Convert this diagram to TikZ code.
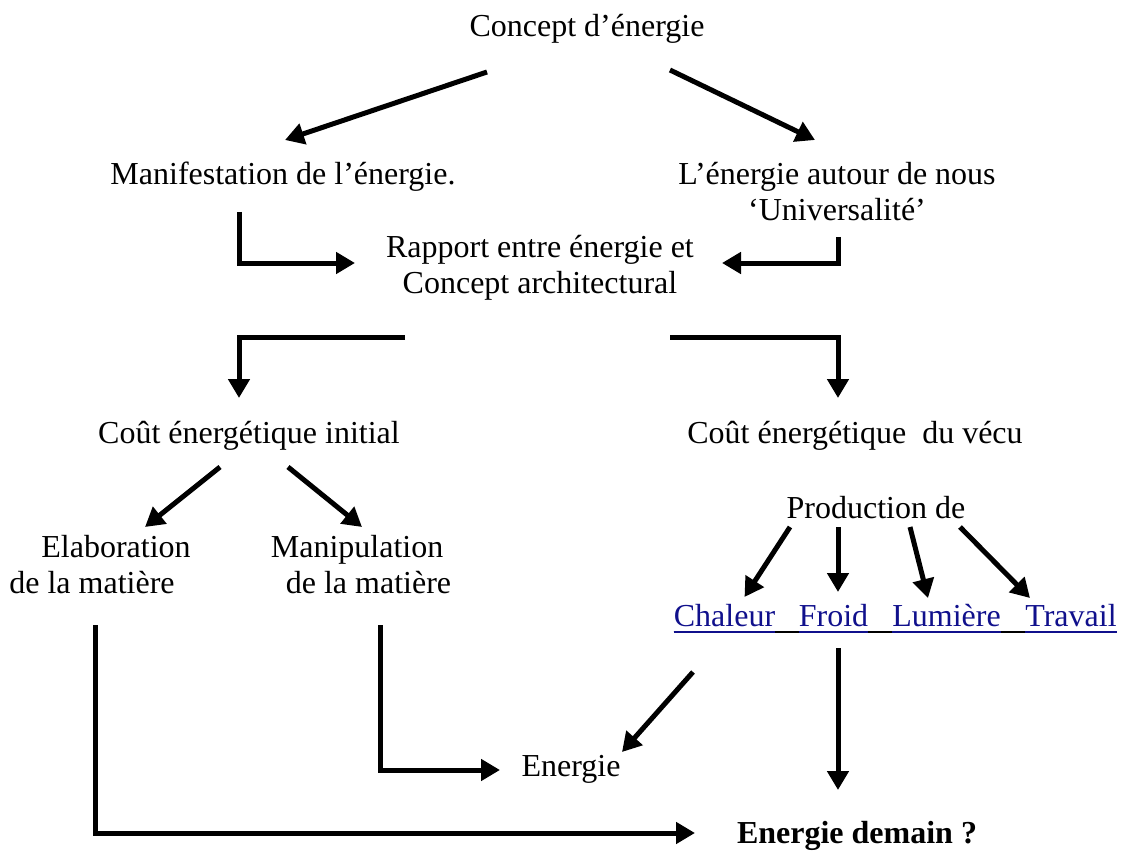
\documentclass[tikz,border=0pt]{standalone}
\usepackage{fontspec}
\setmainfont{Liberation Serif}
\usetikzlibrary{arrows.meta,calc}
\definecolor{linkblue}{RGB}{16,16,140}
\begin{document}
\begin{tikzpicture}[x=1pt,y=-1pt,
  lbl/.style={inner sep=0pt,anchor=base,font=\fontsize{32}{36}\selectfont,align=center},
  arr/.style={line width=5pt,-{Triangle[length=19pt,width=21pt]}},
  uline/.style={line width=2pt}]
\useasboundingbox (0,0) rectangle (1127,853);
% nodes (anchor base = baseline of the last line)
\node[lbl] (concept) at (587,37) {Concept d’énergie};
\node[lbl] (manif) at (283,185) {Manifestation de l’énergie.};
\node[lbl] (autour) at (837,221) {L’énergie autour de nous\\‘Universalité’};
\node[lbl] (rapport) at (540,293) {Rapport entre énergie et\\Concept architectural};
\node[lbl] (initial) at (249,443) {Coût énergétique initial};
\node[lbl] (vecu) at (855,443) {Coût énergétique\ \ du vécu};
\node[lbl,align=left] (elab) at (100,593) {\hspace*{32pt}Elaboration\\de la matière};
\node[lbl,align=left] (manip) at (361,593) {Manipulation\\\hspace*{15pt}de la matière};
\node[lbl] (prod) at (876,518) {Production de};
\node[lbl,text=linkblue] (chaleur) at (724.5,626) {Chaleur};
\node[lbl,text=linkblue] (froid) at (833.5,626) {Froid};
\node[lbl,text=linkblue] (lumiere) at (946.5,626) {Lumière};
\node[lbl,text=linkblue] (travail) at (1071,626) {Travail};
\node[lbl] (energie) at (571,776) {Energie};
\node[lbl,font=\fontsize{32}{36}\selectfont\bfseries] (demain) at (857,843) {Energie demain ?};
% underlines
\draw[uline] ($(chaleur.base west)+(0,6)$) -- ($(travail.base east)+(0,6)$);
\foreach \w in {chaleur,froid,lumiere,travail}
  \draw[uline,linkblue] ($(\w.base west)+(0,6)$) -- ($(\w.base east)+(0,6)$);
% connectors
\draw[arr] ($(concept.base)+(-100,35)$) -- ($(manif.base)+(2,-45)$);
\draw[arr] ($(concept.base)+(83,33)$) -- ($(autour.base)+(-22,-81)$);
\draw[arr] ($(manif.base)+(-44,27)$) |- ($(rapport.base)+(-185,-30)$);
\draw[arr] ($(autour.base)+(1,16)$) |- ($(rapport.base)+(182,-30)$);
\draw[arr] ($(rapport.base)+(-135,44)$) -| ($(initial.base)+(-10,-45)$);
\draw[arr] ($(rapport.base)+(130,44)$) -| ($(vecu.base)+(-17,-45)$);
\draw[arr] ($(initial.base)+(-29,24)$) -- ($(elab.base)+(45,-66)$);
\draw[arr] ($(initial.base)+(39,24)$) -- ($(manip.base)+(1,-66)$);
\draw[arr] ($(prod.base)+(-86,9)$) -- ($(chaleur.base)+(20,-29)$);
\draw[arr] ($(prod.base)+(-38,9)$) -- ($(froid.base)+(4.5,-34)$);
\draw[arr] ($(prod.base)+(34,9)$) -- ($(lumiere.base)+(-18.5,-28)$);
\draw[arr] ($(prod.base)+(84,9)$) -- ($(travail.base)+(-41,-28)$);
\draw[arr] ($(froid.base)+(4.5,22)$) -- ($(demain.base)+(-19,-53)$);
\draw[arr] ($(chaleur.base)+(-31.5,46)$) -- ($(energie.base)+(51,-24)$);
\draw[arr] ($(manip.base)+(19,32)$) |- ($(energie.base)+(-71,-6)$);
\draw[arr] ($(elab.base)+(-5,32)$) |- ($(demain.base)+(-162,-10)$);
\end{tikzpicture}
\end{document}
